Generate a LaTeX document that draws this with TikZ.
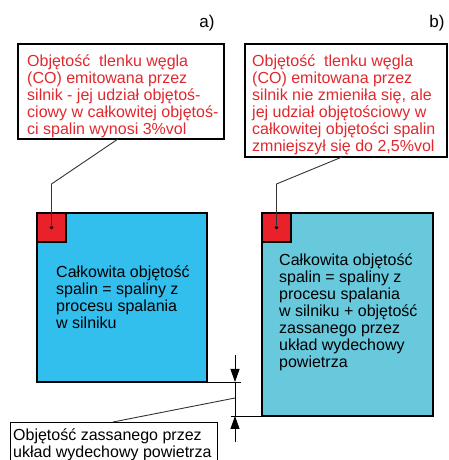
\documentclass[tikz,border=0pt]{standalone}
\usepackage{fontspec}
\setmainfont{Liberation Sans}
\usetikzlibrary{arrows.meta}
\definecolor{exhaustA}{HTML}{33BFEE}
\definecolor{exhaustB}{HTML}{68C8DC}
\definecolor{coRed}{HTML}{E8212B}
\definecolor{noteRed}{HTML}{E0282E}

\begin{document}
\begin{tikzpicture}[x=1pt, y=1pt,
    frame/.style={draw=black, line width=1.6pt, anchor=north west, inner sep=0pt, outer sep=0pt},
    txt/.style={anchor=north west, inner sep=0pt, align=left, font=\fontsize{16}{17}\selectfont},
    lead/.style={draw=black!80, line width=0.9pt}]
  \clip (0,0) rectangle (448,460);

  % tags
  \node[font=\fontsize{17}{17}\selectfont] (tagA) at (207,437) {a)};
  \node[font=\fontsize{17}{17}\selectfont] (tagB) at (437,437) {b)};

  % red notes
  \node[frame, minimum width=206, minimum height=95] (noteA) at (18,416) {};
  \node[txt, text=noteRed] (noteAtxt) at (27,406) {\rule{0pt}{12pt}Objętość\ \ tlenku węgla\\(CO) emitowana przez\\silnik - jej udział objętoś-\\ciowy w całkowitej objętoś-\\ci spalin wynosi 3\%vol};
  \node[frame, minimum width=202, minimum height=113] (noteB) at (245,416) {};
  \node[txt, text=noteRed] (noteBtxt) at (252,406) {\rule{0pt}{12pt}Objętość\ \ tlenku węgla\\(CO) emitowana przez\\silnik nie zmieniła się, ale\\jej udział objętościowy w\\całkowitej objętości spalin\\zmniejszył się do 2,5\%vol};

  % exhaust volumes
  \node[frame, fill=exhaustA, minimum width=170, minimum height=169] (boxA) at (37,247) {};
  \node[frame, fill=coRed, minimum size=29] (sqA) at (boxA.north west) {};
  \node[txt] (boxAtxt) at (56,195) {\rule{0pt}{12pt}Całkowita objętość\\spalin = spaliny z\\procesu spalania\\w silniku};
  \node[frame, fill=exhaustB, minimum width=171, minimum height=203] (boxB) at (262,247) {};
  \node[frame, fill=coRed, minimum size=29] (sqB) at (boxB.north west) {};
  \node[txt] (boxBtxt) at (279,207) {\rule{0pt}{12pt}Całkowita objętość\\spalin = spaliny z\\procesu spalania\\w silniku + objętość\\zassanego przez\\układ wydechowy\\powietrza};

  % leaders to the notes
  \coordinate (kneeA) at (sqA.center |- 0,276);
  \coordinate (kneeB) at (sqB.center |- 0,276);
  \fill (sqA.center) circle (1.8pt);
  \fill (sqB.center) circle (1.8pt);
  \draw[lead] (sqA.center) -- (kneeA) -- ([xshift=100pt]noteA.south west);
  \draw[lead] (sqB.center) -- (kneeB) -- ([xshift=97pt]noteB.south west);

  % dimension of sucked-in air
  \coordinate (dimTop) at (235,105);
  \coordinate (dimBot) at (235,18);
  \coordinate (dimMid) at (235,62);
  \coordinate (tipA) at (dimTop |- boxA.south);
  \coordinate (tipB) at (dimTop |- boxB.south);
  \draw[line width=0.8pt] (boxA.south east) -- ++(34,0);
  \draw[line width=0.8pt] (boxB.south west) -- ++(-31,0);
  \draw[line width=0.8pt, -{Triangle[width=9pt,length=13pt]}] (dimTop) -- (tipA);
  \draw[line width=0.8pt] (tipA) -- (tipB);
  \draw[line width=0.8pt, -{Triangle[width=9pt,length=13pt]}] (dimBot) -- (tipB);

  \node[draw, line width=0.8pt, anchor=north west, inner sep=0pt, outer sep=0pt, minimum width=207, minimum height=50] (labelC) at (10,38) {};
  \node[txt] (labelCtxt) at (13,32) {\rule{0pt}{12pt}Objętość zassanego przez\\układ wydechowy powietrza};
  \draw[lead] (dimMid) -- ([xshift=103pt]labelC.north west);
\end{tikzpicture}
\end{document}
